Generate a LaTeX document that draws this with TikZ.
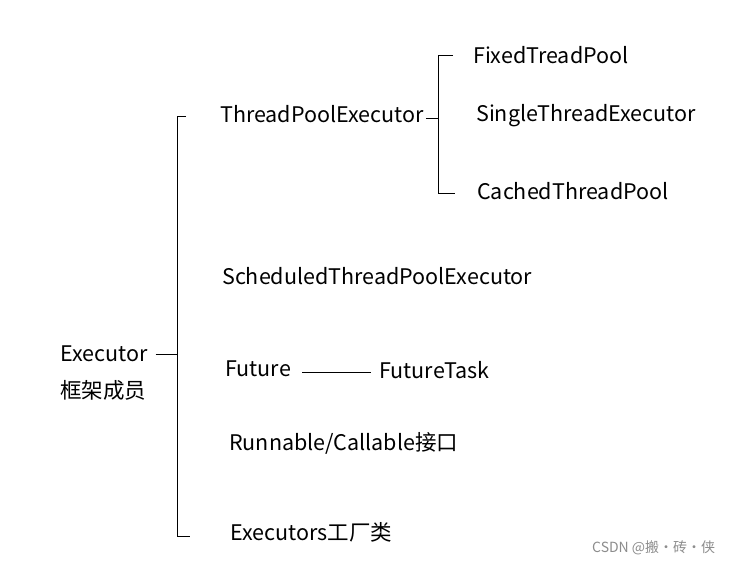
\documentclass[tikz,border=0pt]{standalone}
\usepackage{fontspec}
\setmainfont{Noto Sans CJK SC}
\usetikzlibrary{positioning, calc}
\tikzset{
         mylabel/.style={anchor=west, inner sep=0pt, font=\fontsize{21.5}{25}\selectfont},
         mymark/.style={anchor=west, inner sep=0pt, text=black!45, font=\fontsize{14}{16}\selectfont},
         myline/.style={draw, line width=0.8pt}
      }

\begin{document}
\begin{tikzpicture}[x=1pt, y=-1pt]
                  \useasboundingbox (0,0) rectangle (729,566);
                  % labels
                  \node[mylabel] (executor)   at (60,354)  {Executor};
                  \node[mylabel] (member)     at (60,390)  {框架成员};
                  \node[mylabel] (tpe)        at (220,114) {ThreadPoolExecutor};
                  \node[mylabel] (fixed)      at (473,55)  {FixedTreadPool};
                  \node[mylabel] (single)     at (476,116) {SingleThreadExecutor};
                  \node[mylabel] (cached)     at (477,191) {CachedThreadPool};
                  \node[mylabel] (scheduled)  at (222,276) {ScheduledThreadPoolExecutor};
                  \node[mylabel] (future)     at (225,369) {Future};
                  \node[mylabel] (futuretask) at (379,370) {FutureTask};
                  \node[mylabel] (runnable)   at (229,443) {Runnable/Callable接口};
                  \node[mylabel] (executors)  at (230,532) {Executors工厂类};
                  \node[mymark]  (csdn)       at (592,548) {CSDN @搬·砖·侠};
                  % brackets
                  \coordinate (btop) at (177,116);
                  \coordinate (bbot) at (177,536);
                  \coordinate (ctop) at (438,55);
                  \coordinate (cmid) at (438,118);
                  \coordinate (cbot) at (438,193);
                  \coordinate (fline) at (0,372);
                  \path [myline] ([xshift=9pt]btop) -- (btop) -- (bbot) -- ([xshift=13pt]bbot);
                  \path [myline] ([xshift=8pt]executor.east) -- (executor.east -| btop);
                  \path [myline] ([xshift=15pt]ctop) -- (ctop) -- (cbot) -- ([xshift=17pt]cbot);
                  \path [myline] ([xshift=2pt]tpe.east |- cmid) -- (cmid);
                  \path [myline] ([xshift=11pt]future.east |- fline) -- ([xshift=-8pt]futuretask.west |- fline);
\end{tikzpicture}
\end{document}
